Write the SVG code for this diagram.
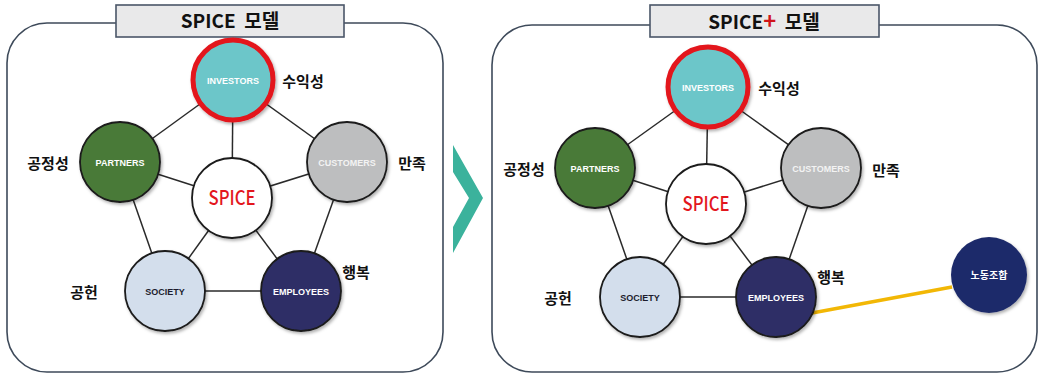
<svg xmlns="http://www.w3.org/2000/svg" width="1039" height="374" viewBox="0 0 1039 374">
  <style>
    .panel { fill: #ffffff; stroke: #3e4a5a; stroke-width: 1.6; }
    .title-box { fill: #e9e9ea; stroke: #4a5668; stroke-width: 1.6; }
    .title { font-family: "Noto Sans CJK KR", "Liberation Sans", sans-serif; font-weight: 700; font-size: 19px; fill: #111; text-anchor: middle; }
    .edge { stroke: #2a2a2a; stroke-width: 1.5; fill: none; }
    .node { stroke: #1a1a1a; stroke-width: 1.8; filter: url(#shadow); }
    .ntxt { font-family: "Liberation Sans", Arial, sans-serif; font-weight: 700; font-size: 9px; fill: #ffffff; text-anchor: middle; }
    .dark { fill: #1c1c2c; }
    .grey { fill: #f3f3f3; }
    .core { font-family: "Noto Sans CJK KR", "Liberation Sans", sans-serif; font-weight: 500; font-size: 20px; fill: #e3161d; text-anchor: middle; }
    .lbl { font-family: "Noto Sans CJK KR", sans-serif; font-weight: 700; font-size: 15px; fill: #111; text-anchor: middle; }
    .inv { fill: #6cc6c9; stroke: #e3141b; stroke-width: 5; }
  </style>
  <defs>
    <filter id="shadow" x="-20%" y="-20%" width="150%" height="150%">
      <feDropShadow dx="1.5" dy="2" stdDeviation="1.5" flood-color="#000" flood-opacity="0.3"/>
    </filter>
  </defs>

  <!-- panels -->
  <rect class="panel" x="7" y="23" width="436" height="349" rx="40"/>
  <rect class="panel" x="492" y="25" width="545" height="347" rx="40"/>

  <!-- chevron between panels -->
  <polygon points="453,145 483,198 453,253 453,227 469,198 453,172" fill="#3bb29c"/>

  <!-- titles -->
  <g id="title-left">
    <rect class="title-box" x="116" y="5" width="228" height="32"/>
    <text class="title" x="230" y="28" xml:space="preserve">SPICE  모델</text>
  </g>
  <g id="title-right">
    <rect class="title-box" x="650" y="5" width="229" height="32"/>
    <text class="title" x="764" y="29" font-size="20" xml:space="preserve">SPICE<tspan fill="#d0141a" font-size="22">+</tspan>  모델</text>
  </g>

  <!-- connectors -->
  <g id="connectors">
    <line class="edge" x1="233" y1="80" x2="120" y2="162"/>
    <line class="edge" x1="233" y1="80" x2="347" y2="162"/>
    <line class="edge" x1="233" y1="80" x2="232" y2="198"/>
    <line class="edge" x1="120" y1="162" x2="232" y2="198"/>
    <line class="edge" x1="347" y1="162" x2="232" y2="198"/>
    <line class="edge" x1="120" y1="162" x2="165" y2="291"/>
    <line class="edge" x1="347" y1="162" x2="301" y2="291"/>
    <line class="edge" x1="165" y1="291" x2="232" y2="198"/>
    <line class="edge" x1="301" y1="291" x2="232" y2="198"/>
    <line class="edge" x1="165" y1="291" x2="301" y2="291"/>

    <line class="edge" x1="708" y1="87" x2="595" y2="168"/>
    <line class="edge" x1="708" y1="87" x2="821" y2="168"/>
    <line class="edge" x1="708" y1="87" x2="706" y2="204"/>
    <line class="edge" x1="595" y1="168" x2="706" y2="204"/>
    <line class="edge" x1="821" y1="168" x2="706" y2="204"/>
    <line class="edge" x1="595" y1="168" x2="640" y2="297"/>
    <line class="edge" x1="821" y1="168" x2="776" y2="297"/>
    <line class="edge" x1="640" y1="297" x2="706" y2="204"/>
    <line class="edge" x1="776" y1="297" x2="706" y2="204"/>
    <line class="edge" x1="640" y1="297" x2="776" y2="297"/>
    <line x1="812" y1="313" x2="952" y2="287" stroke="#f2b705" stroke-width="3.5"/>
  </g>

  <!-- left model nodes -->
  <g id="l-investors">
    <circle class="inv" cx="233" cy="80" r="40" filter="url(#shadow)"/>
    <text class="ntxt" x="233" y="84">INVESTORS</text>
  </g>
  <g id="l-partners">
    <circle class="node" cx="120" cy="162" r="40" fill="#4a7a39"/>
    <text class="ntxt" x="120" y="166">PARTNERS</text>
  </g>
  <g id="l-customers">
    <circle class="node" cx="347" cy="162" r="40" fill="#bdbebf"/>
    <text class="ntxt grey" x="347" y="166">CUSTOMERS</text>
  </g>
  <g id="l-spice">
    <circle class="node" cx="232" cy="198" r="40" fill="#ffffff"/>
    <text class="core" x="232" y="205" textLength="47" lengthAdjust="spacingAndGlyphs">SPICE</text>
  </g>
  <g id="l-society">
    <circle class="node" cx="165" cy="291" r="40" fill="#d3deec"/>
    <text class="ntxt dark" x="165" y="295">SOCIETY</text>
  </g>
  <g id="l-employees">
    <circle class="node" cx="301" cy="291" r="40" fill="#2e2f66"/>
    <text class="ntxt" x="301" y="295">EMPLOYEES</text>
  </g>
  <g id="l-labels">
    <text class="lbl" x="303" y="87">수익성</text>
    <text class="lbl" x="48" y="169">공정성</text>
    <text class="lbl" x="412" y="169">만족</text>
    <text class="lbl" x="356" y="278">행복</text>
    <text class="lbl" x="84" y="298">공헌</text>
  </g>

  <!-- right model nodes -->
  <g id="r-investors">
    <circle class="inv" cx="708" cy="87" r="40" filter="url(#shadow)"/>
    <text class="ntxt" x="708" y="91">INVESTORS</text>
  </g>
  <g id="r-partners">
    <circle class="node" cx="595" cy="168" r="40" fill="#4a7a39"/>
    <text class="ntxt" x="595" y="172">PARTNERS</text>
  </g>
  <g id="r-customers">
    <circle class="node" cx="821" cy="168" r="40" fill="#bdbebf"/>
    <text class="ntxt grey" x="821" y="172">CUSTOMERS</text>
  </g>
  <g id="r-spice">
    <circle class="node" cx="706" cy="204" r="40" fill="#ffffff"/>
    <text class="core" x="706" y="211" textLength="47" lengthAdjust="spacingAndGlyphs">SPICE</text>
  </g>
  <g id="r-society">
    <circle class="node" cx="640" cy="297" r="40" fill="#d3deec"/>
    <text class="ntxt dark" x="640" y="301">SOCIETY</text>
  </g>
  <g id="r-employees">
    <circle class="node" cx="776" cy="297" r="40" fill="#2e2f66"/>
    <text class="ntxt" x="776" y="301">EMPLOYEES</text>
  </g>
  <g id="r-union">
    <circle cx="989" cy="275" r="38" fill="#1f2c6a" filter="url(#shadow)"/>
    <text x="989" y="279" font-family="Noto Sans CJK KR, sans-serif" font-weight="700" font-size="10" fill="#ffffff" text-anchor="middle">노동조합</text>
  </g>
  <g id="r-labels">
    <text class="lbl" x="779" y="94">수익성</text>
    <text class="lbl" x="524" y="175">공정성</text>
    <text class="lbl" x="886" y="176">만족</text>
    <text class="lbl" x="831" y="283">행복</text>
    <text class="lbl" x="558" y="304">공헌</text>
  </g>
</svg>
